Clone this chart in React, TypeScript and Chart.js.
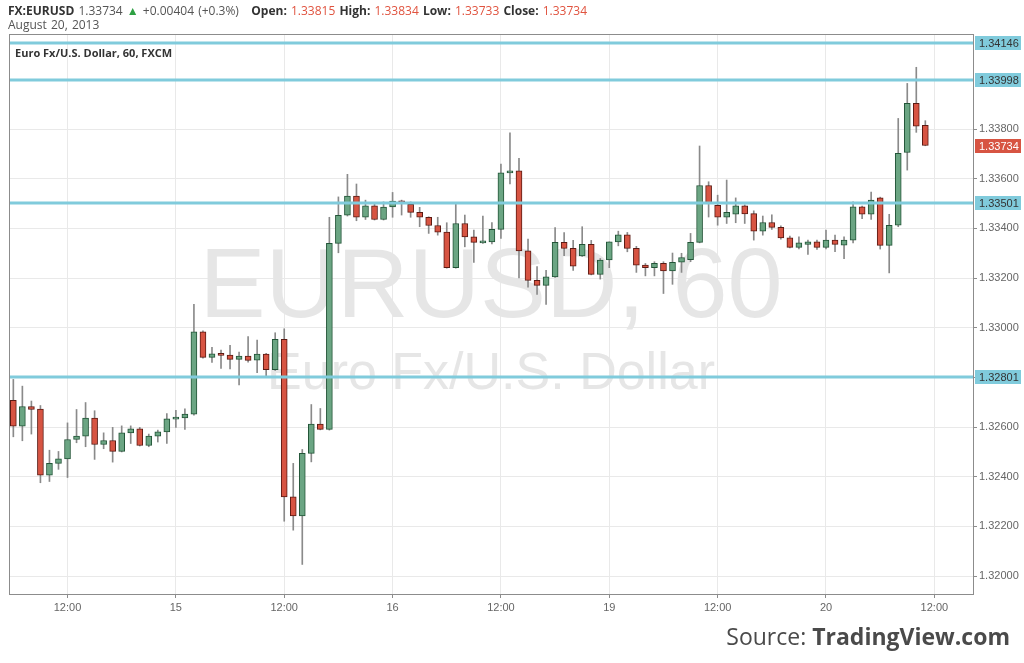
import React, { useEffect, useRef } from 'react';
import { Chart, registerables } from 'chart.js';

Chart.register(...registerables);

// Hourly EUR/USD candles, Aug 14 06:00 -> Aug 20 11:00 (index = candle number)
const opens = [
  1.32708, 1.32604, 1.32683, 1.32673, 1.32406, 1.32454, 1.32472, 1.3255, 1.32564, 1.32636,
  1.3253, 1.32546, 1.32502, 1.32577, 1.32593, 1.32526, 1.32564, 1.32581, 1.32632, 1.32637,
  1.32652, 1.32984, 1.32881, 1.32895, 1.3289, 1.32873, 1.32886, 1.3287, 1.32894, 1.32831,
  1.32953, 1.32319, 1.32242, 1.32494, 1.32612, 1.32591, 1.3334, 1.33453, 1.3353, 1.33445,
  1.33491, 1.33436, 1.33487, 1.3351, 1.33497, 1.33465, 1.33445, 1.33412, 1.33385, 1.33242,
  1.3342, 1.33366, 1.33342, 1.33346, 1.33396, 1.33624, 1.33632, 1.3331, 1.33191, 1.33171,
  1.33205, 1.33344, 1.3332, 1.33289, 1.33336, 1.33215, 1.33273, 1.33346, 1.33374, 1.3332,
  1.33252, 1.33242, 1.3326, 1.33229, 1.33264, 1.33274, 1.33344, 1.33573, 1.33493, 1.33445,
  1.33457, 1.33491, 1.3346, 1.33389, 1.33424, 1.33405, 1.33362, 1.33324, 1.33336, 1.33346,
  1.33324, 1.33353, 1.33333, 1.33353, 1.33487, 1.33457, 1.33523, 1.33332, 1.33413, 1.33706,
  1.33904, 1.33815,
];
const highs = [
  1.32792, 1.32765, 1.32705, 1.32687, 1.32507, 1.32502, 1.32617, 1.32671, 1.32699, 1.32666,
  1.32577, 1.32599, 1.32605, 1.32605, 1.32599, 1.32572, 1.32588, 1.32655, 1.32668, 1.32674,
  1.33094, 1.32988, 1.32921, 1.3291, 1.32929, 1.32902, 1.32965, 1.3295, 1.32897, 1.3298,
  1.32996, 1.32454, 1.3251, 1.32691, 1.32675, 1.33445, 1.33527, 1.33618, 1.33579, 1.33514,
  1.33501, 1.33507, 1.33545, 1.33514, 1.33507, 1.33485, 1.33447, 1.33445, 1.33423, 1.33498,
  1.33454, 1.33393, 1.3345, 1.33424, 1.33659, 1.33785, 1.33682, 1.33357, 1.33246, 1.33231,
  1.33403, 1.33383, 1.33352, 1.33407, 1.33352, 1.33279, 1.33346, 1.33389, 1.33384, 1.33328,
  1.33259, 1.33266, 1.33266, 1.33301, 1.333, 1.3338, 1.33732, 1.33588, 1.33534, 1.33595,
  1.33523, 1.33495, 1.33471, 1.3345, 1.33455, 1.33411, 1.33369, 1.33366, 1.33353, 1.33353,
  1.33393, 1.33373, 1.33366, 1.33507, 1.3349, 1.33546, 1.33526, 1.33457, 1.33843, 1.33984,
  1.34049, 1.33834,
];
const lows = [
  1.32561, 1.32545, 1.32572, 1.32376, 1.32381, 1.3243, 1.32397, 1.32537, 1.32521, 1.3247,
  1.32513, 1.32459, 1.325, 1.32534, 1.32524, 1.32521, 1.3254, 1.32534, 1.32599, 1.32591,
  1.32648, 1.32878, 1.32861, 1.32836, 1.32834, 1.3277, 1.32862, 1.32819, 1.32805, 1.32828,
  1.32221, 1.32185, 1.32047, 1.3246, 1.32589, 1.32588, 1.33302, 1.3345, 1.33431, 1.33436,
  1.33434, 1.33434, 1.33445, 1.33454, 1.33445, 1.33407, 1.3338, 1.33373, 1.3324, 1.3324,
  1.33326, 1.33263, 1.3334, 1.33338, 1.3336, 1.33579, 1.33201, 1.33164, 1.33134, 1.33094,
  1.33203, 1.3329, 1.33231, 1.33287, 1.33213, 1.33196, 1.33242, 1.3333, 1.33306, 1.33223,
  1.33209, 1.33209, 1.33138, 1.33175, 1.33223, 1.33266, 1.33342, 1.33446, 1.33413, 1.3342,
  1.33423, 1.3342, 1.33353, 1.33373, 1.33396, 1.33357, 1.33322, 1.33318, 1.33295, 1.33316,
  1.33318, 1.33306, 1.33278, 1.33342, 1.33439, 1.33436, 1.33317, 1.33221, 1.33407, 1.33635,
  1.33787, 1.33733,
];
const closes = [
  1.32604, 1.32683, 1.32671, 1.32406, 1.32454, 1.32472, 1.3255, 1.32564, 1.32636, 1.3253,
  1.32546, 1.32502, 1.32577, 1.32593, 1.32526, 1.32564, 1.32581, 1.32633, 1.32637, 1.32652,
  1.32984, 1.32881, 1.32895, 1.32889, 1.32873, 1.32886, 1.32869, 1.32894, 1.32831, 1.32953,
  1.32319, 1.32242, 1.32494, 1.32612, 1.32591, 1.3334, 1.33453, 1.3353, 1.33445, 1.33491,
  1.33436, 1.33486, 1.3351, 1.33503, 1.33465, 1.33445, 1.33412, 1.33385, 1.33242, 1.3342,
  1.33366, 1.33344, 1.33348, 1.33396, 1.33624, 1.33632, 1.3331, 1.33191, 1.33171, 1.33205,
  1.33344, 1.3332, 1.33248, 1.33336, 1.33215, 1.33273, 1.33346, 1.33374, 1.3332, 1.33252,
  1.33242, 1.3326, 1.33229, 1.33264, 1.33283, 1.33344, 1.33573, 1.33503, 1.33445, 1.33465,
  1.33491, 1.33459, 1.33389, 1.33424, 1.33404, 1.33362, 1.33324, 1.33342, 1.33346, 1.33324,
  1.33353, 1.33336, 1.33353, 1.33487, 1.33457, 1.33514, 1.33332, 1.33413, 1.33702, 1.33904,
  1.33812, 1.33734,
];

const xTickPositions = [6, 18, 30, 42, 54, 66, 78, 90, 102];
const xTickLabels = ['12:00', '15', '12:00', '16', '12:00', '19', '12:00', '20', '12:00'];
const yTicks = [1.32, 1.322, 1.324, 1.326, 1.328, 1.33, 1.332, 1.334, 1.336, 1.338];
const levels = [1.34146, 1.33998, 1.33501, 1.32801];
const lastPrice = 1.33734;

const UP_FILL = '#6ba583';
const UP_BORDER = '#225437';
const DOWN_FILL = '#d75442';
const DOWN_BORDER = '#5b1a13';
const WICK = '#8a8a8a';
const LEVEL = '#80cbdc';
const FONT = '"Liberation Sans", Arial, sans-serif';

export default function App() {
  const ref = useRef<HTMLCanvasElement>(null);

  useEffect(() => {
    const canvas = ref.current;
    if (!canvas) return;
    const up = (i: number) => closes[i] >= opens[i];
    const bodies = opens.map((o, i) => ({ x: i, y: [o, closes[i]] }));
    const wicks = opens.map((_, i) => ({ x: i, y: [lows[i], highs[i]] }));

    const overlay = {
      id: 'overlay',
      beforeDatasetsDraw(chart: any) {
        const { ctx, chartArea } = chart;
        const cx = (chartArea.left + chartArea.right) / 2;
        ctx.save();
        ctx.fillStyle = '#e6e6e6';
        ctx.textAlign = 'center';
        ctx.textBaseline = 'alphabetic';
        ctx.font = `99px ${FONT}`;
        ctx.fillText('EURUSD, 60', cx, 317);
        ctx.font = `52px ${FONT}`;
        ctx.fillText('Euro Fx/U.S. Dollar', cx, 389);
        ctx.restore();
      },
      afterDatasetsDraw(chart: any) {
        const { ctx, chartArea, scales } = chart;
        const y = scales.y;
        ctx.save();
        ctx.strokeStyle = LEVEL;
        ctx.lineWidth = 3;
        levels.forEach((v) => {
          const py = Math.round(y.getPixelForValue(v));
          ctx.beginPath();
          ctx.moveTo(chartArea.left, py);
          ctx.lineTo(chartArea.right, py);
          ctx.stroke();
        });
        ctx.restore();
      },
      afterDraw(chart: any) {
        const { ctx, chartArea, scales } = chart;
        const y = scales.y;
        ctx.save();
        ctx.strokeStyle = '#8c8c8c';
        ctx.lineWidth = 1;
        ctx.strokeRect(chartArea.left + 0.5, chartArea.top + 0.5, chartArea.right - chartArea.left, chartArea.bottom - chartArea.top);
        ctx.font = `11px ${FONT}`;
        ctx.textBaseline = 'middle';
        ctx.textAlign = 'left';
        const box = (v: number, fill: string, color: string) => {
          const py = Math.round(y.getPixelForValue(v));
          ctx.fillStyle = fill;
          ctx.fillRect(chartArea.right + 2, py - 7, 46, 14);
          ctx.fillStyle = color;
          ctx.fillText(v.toFixed(5), chartArea.right + 6, py + 0.5);
        };
        levels.forEach((v) => box(v, LEVEL, '#333333'));
        box(lastPrice, DOWN_FILL, '#ffffff');
        ctx.restore();
      },
    };

    const chart = new Chart(canvas, {
      type: 'bar',
      data: {
        datasets: [
          {
            data: bodies as any,
            grouped: false,
            barThickness: 6,
            minBarLength: 2,
            borderWidth: 1,
            borderSkipped: false,
            backgroundColor: (c: any) => (up(c.dataIndex) ? UP_FILL : DOWN_FILL),
            borderColor: (c: any) => (up(c.dataIndex) ? UP_BORDER : DOWN_BORDER),
          } as any,
          {
            data: wicks as any,
            grouped: false,
            barThickness: 1,
            borderWidth: 0,
            backgroundColor: WICK,
          } as any,
        ],
      },
      options: {
        responsive: false,
        animation: false,
        devicePixelRatio: 1,
        layout: { padding: { left: 9, top: 34, right: 0, bottom: 0 } },
        plugins: { legend: { display: false }, tooltip: { enabled: false } },
        scales: {
          x: {
            type: 'linear',
            min: -0.48,
            max: 106.28,
            offset: false,
            grid: { offset: false, color: '#e9e9e9', tickColor: '#8c8c8c', tickLength: 4 },
            border: { color: '#8c8c8c' },
            afterBuildTicks: (s: any) => {
              s.ticks = xTickPositions.map((v) => ({ value: v }));
            },
            afterFit: (s: any) => {
              s.height = 69;
            },
            ticks: {
              autoSkip: false,
              maxRotation: 0,
              padding: 3,
              color: '#666',
              font: { family: '"Liberation Sans Narrow", "Liberation Sans", Arial, sans-serif', size: 11 },
              callback: (_v: any, i: number) => xTickLabels[i],
            },
          },
          y: {
            type: 'linear',
            position: 'right',
            min: 1.31928,
            max: 1.34183,
            beginAtZero: false,
            grid: { color: '#e9e9e9', tickColor: '#8c8c8c', tickLength: 4 },
            border: { color: '#8c8c8c' },
            afterBuildTicks: (s: any) => {
              s.ticks = yTicks.map((v) => ({ value: v }));
            },
            afterFit: (s: any) => {
              s.width = 51;
            },
            ticks: {
              padding: 2,
              color: '#666',
              font: { family: FONT, size: 11 },
              callback: (v: any) => Number(v).toFixed(5),
            },
          },
        },
      } as any,
      plugins: [overlay],
    });
    return () => chart.destroy();
  }, []);

  const red = { color: '#e0533f' };
  const b = { fontWeight: 700, color: '#333' };
  return (
    <div
      style={{
        position: 'absolute',
        left: 0,
        top: 0,
        width: 1024,
        height: 663,
        background: '#fff',
        overflow: 'hidden',
      }}
    >
      <canvas ref={ref} width={1024} height={663} style={{ display: 'block', position: 'absolute', left: 0, top: 0 }} />
      <div
        style={{
          position: 'absolute',
          left: 8,
          top: 4,
          font: '12px "Open Sans", sans-serif',
          lineHeight: '14px',
          color: '#555',
          whiteSpace: 'pre',
          wordSpacing: 1,
        }}
      >
        <div>
          <span style={b}>FX:EURUSD</span> 1.33734 <span style={{ color: '#2ea043' }}>▲</span> +0.00404 (+0.3%){'   '}
          <span style={b}>Open:</span> <span style={red}>1.33815</span> <span style={b}>High:</span>{' '}
          <span style={red}>1.33834</span> <span style={b}>Low:</span> <span style={red}>1.33733</span>{' '}
          <span style={b}>Close:</span> <span style={red}>1.33734</span>
        </div>
        <div>August 20, 2013</div>
      </div>
      <div
        style={{
          position: 'absolute',
          left: 15,
          top: 45,
          font: '700 11px "Open Sans", sans-serif',
          color: '#333',
          whiteSpace: 'pre',
        }}
      >
        Euro Fx/U.S. Dollar, 60, FXCM
      </div>
      <div
        style={{
          position: 'absolute',
          right: 14,
          top: 620,
          font: '23px "Open Sans", sans-serif',
          color: '#4a4a4a',
          whiteSpace: 'pre',
        }}
      >
        Source: <span style={{ fontWeight: 700 }}>TradingView.com</span>
      </div>
    </div>
  );
}
